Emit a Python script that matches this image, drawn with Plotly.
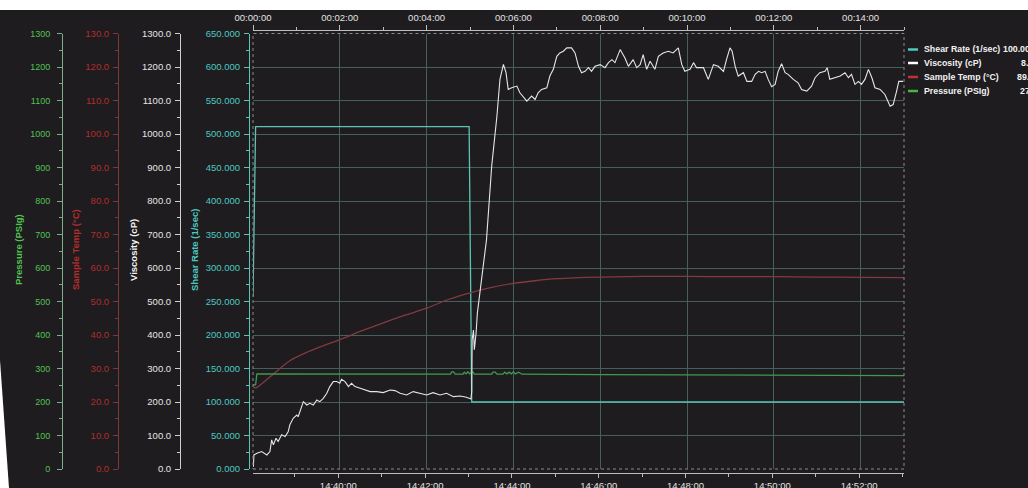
import plotly.graph_objects as go

# ---------------- data ----------------
start_clock = "14:38:02"
elapsed_tick_min = [0, 2, 4, 6, 8, 10, 12, 14]
elapsed_tick_labels = ["00:00:00", "00:02:00", "00:04:00", "00:06:00",
                       "00:08:00", "00:10:00", "00:12:00", "00:14:00"]
elapsed_minor_min = [1, 3, 5, 7, 9, 11, 13, 15]
clock_tick_labels = ["14:40:00", "14:42:00", "14:44:00", "14:46:00",
                     "14:48:00", "14:50:00", "14:52:00"]
clock_minor_labels = ["14:39:00", "14:41:00", "14:43:00", "14:45:00",
                      "14:47:00", "14:49:00", "14:51:00", "14:53:00"]

shear_t = [0.0, 0.06, 4.98, 5.04, 15.0]
shear_v = [257, 511, 511, 100, 100]

visc_t = [0.01, 0.02, 0.09, 0.20, 0.32, 0.39, 0.43, 0.47, 0.53, 0.58, 0.66, 0.74, 0.81,
          0.85, 0.93, 1.01, 1.04, 1.08, 1.12, 1.16, 1.24, 1.31, 1.39, 1.47, 1.54, 1.62,
          1.70, 1.77, 1.85, 1.93, 2.00, 2.04, 2.12, 2.20, 2.27, 2.35, 2.47, 2.58, 2.70,
          2.85, 3.00, 3.16, 3.27, 3.39, 3.54, 3.69, 3.85, 4.00, 4.15, 4.31, 4.46, 4.62,
          4.77, 4.92, 5.02, 5.04, 5.05, 5.08, 5.10, 5.14, 5.17, 5.21, 5.38, 5.50, 5.62,
          5.69, 5.77, 5.83, 5.88, 5.96, 6.08, 6.15, 6.31, 6.42, 6.50, 6.57, 6.65, 6.77,
          6.84, 6.92, 7.00, 7.07, 7.15, 7.23, 7.34, 7.42, 7.50, 7.57, 7.65, 7.73, 7.80,
          7.88, 8.00, 8.11, 8.19, 8.27, 8.34, 8.46, 8.57, 8.65, 8.76, 8.84, 8.92, 8.99,
          9.07, 9.15, 9.26, 9.34, 9.45, 9.57, 9.68, 9.80, 9.88, 9.95, 10.07, 10.15, 10.22,
          10.30, 10.38, 10.49, 10.61, 10.72, 10.84, 10.91, 10.99, 11.04, 11.11, 11.18,
          11.30, 11.38, 11.49, 11.57, 11.65, 11.72, 11.80, 11.87, 11.95, 12.03, 12.10,
          12.18, 12.26, 12.33, 12.45, 12.56, 12.64, 12.76, 12.87, 12.95, 13.06, 13.18,
          13.23, 13.29, 13.41, 13.53, 13.64, 13.72, 13.79, 13.87, 13.95, 14.02, 14.10,
          14.18, 14.26, 14.33, 14.45, 14.56, 14.68, 14.75, 14.83, 14.88, 14.98]
visc_v = [7, 42, 47, 52, 42, 52, 87, 72, 92, 82, 102, 97, 111,
          132, 152, 161, 156, 171, 186, 201, 191, 196, 191, 206, 201, 211,
          226, 246, 261, 261, 256, 268, 261, 246, 256, 246, 241, 236, 231,
          231, 228, 236, 234, 226, 221, 231, 226, 221, 228, 221, 226, 216,
          218, 214, 209, 231, 386, 415, 356, 406, 466, 505, 684, 904, 1053,
          1163, 1208, 1183, 1133, 1138, 1143, 1123, 1098, 1113, 1103, 1123, 1133, 1138,
          1173, 1193, 1232, 1242, 1247, 1257, 1257, 1242, 1202, 1183, 1187, 1198, 1187,
          1202, 1207, 1198, 1213, 1222, 1213, 1252, 1227, 1202, 1222, 1198, 1207, 1237,
          1193, 1217, 1193, 1232, 1242, 1247, 1242, 1257, 1207, 1187, 1193, 1213, 1198,
          1198, 1198, 1163, 1207, 1202, 1187, 1222, 1257, 1247, 1202, 1173,
          1183, 1157, 1157, 1178, 1187, 1183, 1187, 1163, 1141, 1148, 1187,
          1210, 1183, 1178, 1163, 1153, 1133, 1128, 1143, 1168, 1183, 1187,
          1198, 1163, 1168, 1173, 1183, 1168, 1178, 1148, 1157, 1148, 1163,
          1193, 1168, 1138, 1133, 1118, 1083, 1088, 1128, 1157, 1157]

temp_t = [0.0, 0.07, 0.16, 0.4, 0.6, 0.85, 1.2, 1.6, 2.0, 2.5, 3.0, 3.5, 4.0, 4.5,
          5.0, 5.5, 6.0, 6.5, 7.0, 7.5, 8.0, 9.0, 10.0, 11.0, 12.0, 13.0, 14.0, 15.0]
temp_v = [24.5, 24.2, 25.0, 27.6, 29.8, 32.3, 34.6, 36.7, 38.6, 41.2, 43.6, 45.9,
          48.0, 50.6, 52.6, 54.2, 55.4, 56.2, 56.8, 57.1, 57.3, 57.5, 57.5, 57.4,
          57.4, 57.3, 57.2, 57.1]

press_t = [0.0, 0.06, 0.09, 1.0, 3.0, 4.55, 4.58, 4.62, 4.66, 4.84, 4.87, 4.91, 4.95,
           4.99, 5.03, 5.07, 5.1, 5.5, 5.53, 5.58, 5.62, 5.76, 5.8, 5.85, 5.9, 5.95,
           6.0, 6.05, 6.12, 6.2, 8.0, 10.0, 12.0, 15.0]
press_v = [251, 251, 284, 284, 283, 283, 290, 290, 283, 283, 289, 284, 290,
           284, 290, 289, 283, 283, 289, 289, 283, 283, 289, 284, 289, 284,
           290, 284, 289, 283, 282, 281, 280, 279]

legend_names = ["Shear Rate (1/sec)", "Viscosity (cP)", "Sample Temp (°C)", "Pressure (PSIg)"]
legend_values = ["100.000", "8.43", "89.12", "278.4"]

# ---------------- styling ----------------
W, H = 1028, 488


def fx(px):
    return px / W


def fy(py):
    return (H - py) / H


BG = "#1e1c1f"
GRID = "#43615a"
FONT = "Liberation Sans, Arial, sans-serif"
C_SHEAR = "#5cc4b6"
C_SHEAR_TXT = "#4ec8c0"
C_VISC = "#e6e6e6"
C_TEMP = "#823a40"
C_TEMP_TXT = "#b42c2c"
C_TEMP_AX = "#7a3a3a"
C_PRESS = "#3f9a4e"
C_PRESS_TXT = "#52c252"
C_PRESS_AX = "#7fae8f"
C_AXIS = "#bdbdbd"
C_TXT = "#e2e2e2"
FS = 9.5


def clock_min(s):
    h, m, sec = [int(v) for v in s.split(":")]
    return h * 60 + m + sec / 60.0


t0 = clock_min(start_clock)
clock_tick_vals = [clock_min(c) - t0 for c in clock_tick_labels]
clock_minor_vals = [clock_min(c) - t0 for c in clock_minor_labels]

fig = go.Figure()
fig.add_trace(go.Scatter(x=shear_t, y=shear_v, mode="lines", xaxis="x", yaxis="y",
                         line=dict(color=C_SHEAR, width=1.3), name=legend_names[0]))
fig.add_trace(go.Scatter(x=temp_t, y=temp_v, mode="lines", xaxis="x", yaxis="y2",
                         line=dict(color=C_TEMP, width=1.3, shape="spline"), name=legend_names[2]))
fig.add_trace(go.Scatter(x=press_t, y=press_v, mode="lines", xaxis="x", yaxis="y3",
                         line=dict(color=C_PRESS, width=1.3), name=legend_names[3]))
fig.add_trace(go.Scatter(x=visc_t, y=visc_v, mode="lines", xaxis="x2", yaxis="y4",
                         line=dict(color=C_VISC, width=1.1), name=legend_names[1]))

XD = [fx(253), fx(904)]
YD = [fy(469), fy(33.5)]


def yax(pos_px, rng, dtick, minor, fmt, txtcol, linecol, fs=FS, **kw):
    d = dict(domain=YD, range=rng, anchor="free", position=fx(pos_px), side="left",
             dtick=dtick, tick0=0, tickformat=fmt, showline=True, linecolor=linecol, linewidth=1,
             ticks="outside", ticklen=5, tickcolor=linecol, tickwidth=1,
             tickfont=dict(family=FONT, size=fs, color=txtcol),
             minor=dict(dtick=minor, ticks="outside", ticklen=3, tickcolor=linecol, showgrid=False),
             showgrid=False, zeroline=False, automargin=False, ticklabelstandoff=2)
    d.update(kw)
    return d


fig.update_layout(
    width=W, height=H, margin=dict(l=0, r=0, t=0, b=0), template="none",
    paper_bgcolor="white", plot_bgcolor="rgba(0,0,0,0)", showlegend=False, hovermode=False,
    xaxis=dict(domain=XD, range=[0, 15], anchor="free", position=fy(473), side="bottom",
               showgrid=False, zeroline=False, showline=True, linecolor=C_AXIS,
               ticks="outside", ticklen=4, tickcolor=C_AXIS, tickvals=clock_tick_vals,
               ticktext=clock_tick_labels, tickfont=dict(family=FONT, size=FS, color=C_TXT),
               minor=dict(tickvals=clock_minor_vals, ticks="outside", ticklen=3, tickcolor=C_AXIS),
               automargin=False),
    xaxis2=dict(overlaying="x", range=[0, 15], anchor="free", position=fy(30), side="top",
                showgrid=True, gridcolor=GRID, gridwidth=1, zeroline=False, showline=True,
                linecolor=C_AXIS, ticks="outside", ticklen=5, tickcolor=C_AXIS,
                tickvals=elapsed_tick_min, ticktext=elapsed_tick_labels,
                tickfont=dict(family=FONT, size=FS, color=C_TXT),
                minor=dict(tickvals=elapsed_minor_min, ticks="outside", ticklen=3, tickcolor=C_AXIS),
                automargin=False),
    yaxis=yax(249, [0, 650], 50, 25, ".3f", C_SHEAR_TXT, C_SHEAR, showgrid=True, gridcolor=GRID),
    yaxis2=yax(118, [0, 130], 10, 5, ".1f", C_TEMP_TXT, C_TEMP_AX, overlaying="y"),
    yaxis3=yax(62, [0, 1300], 100, 50, "d", C_PRESS_TXT, C_PRESS_AX, fs=9, overlaying="y",
               ticklabelstandoff=5),
    yaxis4=yax(180, [0, 1300], 100, 50, ".1f", C_VISC, "#cfcfcf", overlaying="y"),
)

shapes = [
    dict(type="rect", xref="paper", yref="paper", x0=0, x1=1, y0=0, y1=fy(10),
         fillcolor=BG, line=dict(width=0), layer="below"),
    dict(type="path", xref="paper", yref="paper",
         path="M 0 0 L 0 %.5f L %.5f 0 Z" % (fy(360), fx(9)),
         fillcolor="white", line=dict(width=0), layer="below"),
    dict(type="rect", xref="paper", yref="paper", x0=XD[0], x1=XD[1], y0=YD[0], y1=YD[1],
         fillcolor="rgba(0,0,0,0)", line=dict(color="#8a8a8a", width=1, dash="dot"), layer="above"),
]
legend_cols = [C_SHEAR_TXT, "#ffffff", "#c83030", "#46b446"]
legend_rows = [49.5, 63, 77, 91]
annotations = []
for name, val, col, ry, vx in zip(legend_names, legend_values, legend_cols, legend_rows,
                                  [1001, 1019, 1015, 1018]):
    shapes.append(dict(type="line", xref="paper", yref="paper", x0=fx(908), x1=fx(918),
                       y0=fy(ry), y1=fy(ry), line=dict(color=col, width=2.5)))
    annotations.append(dict(xref="paper", yref="paper", x=fx(922), y=fy(ry), text="<b>%s</b>" % name,
                            showarrow=False, xanchor="left", yanchor="middle",
                            font=dict(family=FONT, size=8.8, color="#f2f2f2")))
    annotations.append(dict(xref="paper", yref="paper", x=fx(vx), y=fy(ry), text="<b>%s</b>" % val,
                            showarrow=False, xanchor="left", yanchor="middle",
                            font=dict(family=FONT, size=8.8, color="#f2f2f2")))

titles = [("Pressure (PSIg)", 18, C_PRESS_TXT), ("Sample Temp (°C)", 75, C_TEMP_TXT),
          ("Viscosity (cP)", 133, "#f2f2f2"), ("Shear Rate (1/sec)", 194, C_SHEAR_TXT)]
for txt, xp, col in titles:
    annotations.append(dict(xref="paper", yref="paper", x=fx(xp), y=fy(250), text="<b>%s</b>" % txt,
                            textangle=-90, showarrow=False, xanchor="center", yanchor="middle",
                            font=dict(family=FONT, size=9.5, color=col)))

fig.update_layout(shapes=shapes, annotations=annotations)
fig.write_html("out.html", config={"displayModeBar": False},
               post_script="document.body.style.margin='0';document.body.style.overflow='hidden';")
